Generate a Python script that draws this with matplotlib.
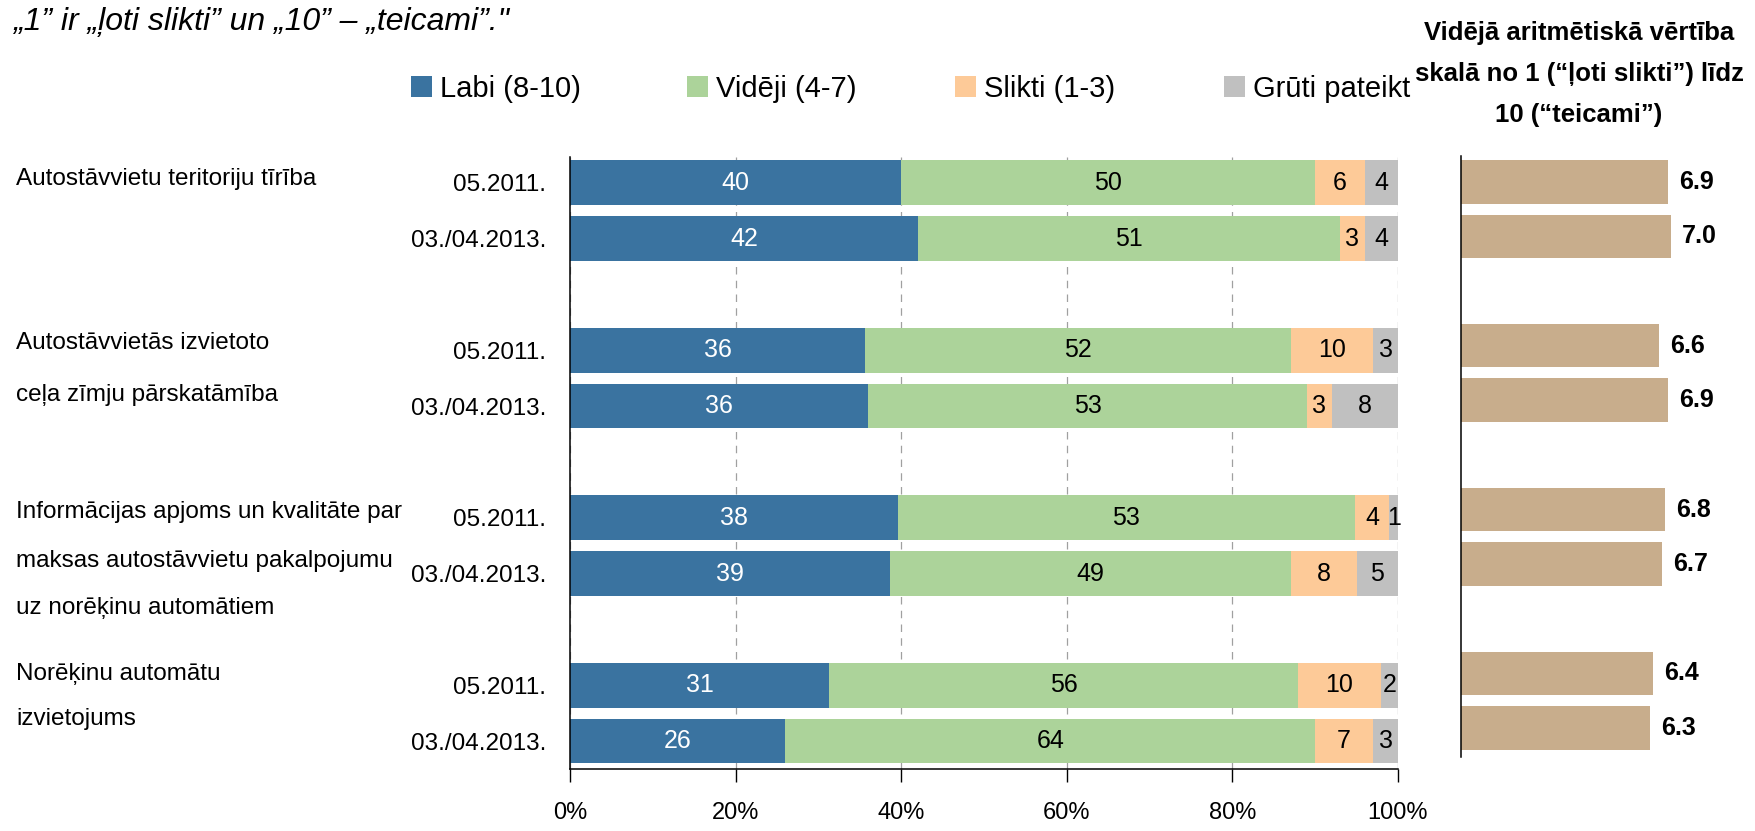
import matplotlib
matplotlib.use("Agg")
import matplotlib.pyplot as plt

plt.rcParams['font.family'] = ['Liberation Sans', 'DejaVu Sans']

# survey results, one row per period, groups of two rows
group_lines = [
    ["Autostāvvietu teritoriju tīrība"],
    ["Autostāvvietās izvietoto", "ceļa zīmju pārskatāmība"],
    ["Informācijas apjoms un kvalitāte par", "maksas autostāvvietu pakalpojumu", "uz norēķinu automātiem"],
    ["Norēķinu automātu", "izvietojums"],
]
periods = ["05.2011.", "03./04.2013."]
series = ["Labi (8-10)", "Vidēji (4-7)", "Slikti (1-3)", "Grūti pateikt"]
labi = [40, 42, 36, 36, 38, 39, 31, 26]
videji = [50, 51, 52, 53, 53, 49, 56, 64]
slikti = [6, 3, 10, 3, 4, 8, 10, 7]
gruti = [4, 4, 3, 8, 1, 5, 2, 3]
average = [6.9, 7.0, 6.6, 6.9, 6.8, 6.7, 6.4, 6.3]

colors = ["#3a73a0", "#acd39a", "#fdca98", "#c0c0c0"]
text_colors = ["white", "black", "black", "black"]
avg_color = "#c8ad8c"

# bar slots: two rows per group with an empty slot between groups
ypos = [g * 3 + k for g in range(len(group_lines)) for k in range(len(periods))]
# vertical offsets of the wrapped group captions (in slot units)
caption_y = [[-0.06], [2.87, 3.80], [5.90, 6.77, 7.61], [8.80, 9.61]]

fig = plt.figure(figsize=(17.56, 8.31), dpi=100)
ax = fig.add_axes([0.3246, 0.0746, 0.4715, 0.7365])
ax2 = fig.add_axes([0.832, 0.089, 0.1538, 0.7232])

values = [labi, videji, slikti, gruti]
totals = [sum(v[i] for v in values) for i in range(len(labi))]
left = [0.0] * len(labi)
containers = []
for name, vals, col, tcol in zip(series, values, colors, text_colors):
    share = [v / t * 100 for v, t in zip(vals, totals)]
    bc = ax.barh(ypos, share, left=left, height=0.8, color=col, label=name)
    ax.bar_label(bc, labels=[str(v) for v in vals], label_type='center',
                 color=tcol, fontsize=18)
    left = [l + s for l, s in zip(left, share)]
    containers.append(bc)

ax.set_xlim(0, 100)
ax.set_ylim(10.5, -0.46)
ax.set_xticks(range(0, 101, 20), labels=[f"{v}%" for v in range(0, 101, 20)])
ax.set_yticks(ypos, labels=periods * len(group_lines))
ax.tick_params(axis='y', length=0, pad=17, labelsize=17.5)
ax.tick_params(axis='x', direction='out', length=9, width=1, pad=15, labelsize=17)
ax.xaxis.grid(True, linestyle=(0, (6, 5)), color='#a0a0a0', linewidth=0.9)
ax.set_axisbelow(True)
for side in ['top', 'right']:
    ax.spines[side].set_visible(False)
for side in ['left', 'bottom']:
    ax.spines[side].set_color('black')
    ax.spines[side].set_linewidth(1.1)

# group captions on the far left
for lines, ys in zip(group_lines, caption_y):
    for line, y in zip(lines, ys):
        ax.text(-0.669, y, line, transform=ax.get_yaxis_transform(),
                ha='left', va='center', fontsize=17.5)

# legend entries spread evenly above the bars
legend_x = [411, 687, 955, 1224]
for bc, name, x in zip(containers, series, legend_x):
    fig.legend([bc], [name], loc='center left', bbox_to_anchor=(x / 1756, 1 - 89 / 831),
               frameon=False, fontsize=21, handlelength=0.72, handleheight=0.72,
               handletextpad=0.27, borderpad=0, borderaxespad=0)

# average score panel
ab = ax2.barh(ypos, average, height=0.8, color=avg_color)
ax2.bar_label(ab, labels=[f"{v:.1f}" for v in average], padding=8,
              fontsize=18, fontweight='bold')
ax2.set_xlim(0, 9)
ax2.set_ylim(10.53, -0.47)
ax2.set_xticks([])
ax2.set_yticks([])
for side in ['top', 'right', 'bottom']:
    ax2.spines[side].set_visible(False)
ax2.spines['left'].set_color('black')
ax2.spines['left'].set_linewidth(1.1)

fig.text(13 / 1756, 1 - 22 / 831, "„1” ir „ļoti slikti” un „10” – „teicami”.\"",
         ha='left', va='center', fontsize=23, style='italic')
fig.text(1579 / 1756, 1 - 74 / 831,
         "Vidējā aritmētiskā vērtība\nskalā no 1 (“ļoti slikti”) līdz\n10 (“teicami”)",
         ha='center', va='center', fontsize=18.5, fontweight='bold', linespacing=1.92)

fig.savefig("out.png", dpi=100)
